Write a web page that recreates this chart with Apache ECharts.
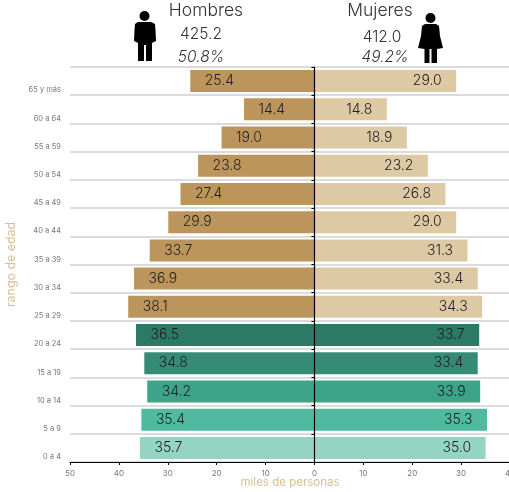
<!DOCTYPE html>
<html><head><meta charset="utf-8">
<style>html,body{margin:0;padding:0;background:#fff;overflow:hidden}#c{width:509px;height:492px}</style>
<script src="https://cdn.jsdelivr.net/npm/echarts@6/dist/echarts.min.js"></script>
</head><body><div id="c"></div>
<script>
const categories = ['0 a 4','5 a 9','10 a 14','15 a 19','20 a 24','25 a 29','30 a 34','35 a 39','40 a 44','45 a 49','50 a 54','55 a 59','60 a 64','65 y más'];
const hombres = [35.7,35.4,34.2,34.8,36.5,38.1,36.9,33.7,29.9,27.4,23.8,19.0,14.4,25.4];
const mujeres = [35.0,35.3,33.9,33.4,33.7,34.3,33.4,31.3,29.0,26.8,23.2,18.9,14.8,29.0];
const tan = '#BC955C', sand = '#DDC9A3';
const coloresHombres = ['#94D4C2','#4FBA9F','#3DA48A','#358B75','#2C7A65',tan,tan,tan,tan,tan,tan,tan,tan,tan];
const coloresMujeres = ['#94D4C2','#4FBA9F','#3DA48A','#358B75','#2C7A65',sand,sand,sand,sand,sand,sand,sand,sand,sand];
const FONT = 'Inter';
const chart = echarts.init(document.getElementById('c'), null, {renderer:'canvas'});
const lab = (pos) => ({show:true, position:pos, distance:14.5, fontFamily:FONT, fontSize:14, fontWeight:300, color:'#1f1f1f', padding:[2,0,0,0],
  formatter:p => Math.abs(p.value).toFixed(1)});
function head(txt,x,y,size,italic){return {type:'text',z:10,style:{text:txt,x,y,align:'center',verticalAlign:'middle',
  font:(italic?'italic ':'')+'300 '+size+'px '+FONT,fill:'#333'}};}
function poly(points){return {type:'polygon',shape:{points},style:{fill:'#000'}};}
chart.setOption({
  animation:false,
  grid:{left:70,right:-1,top:67,bottom:30,containLabel:false,outerBoundsMode:'none'},
  xAxis:{type:'value',min:-50,max:40,interval:10,z:5,
    axisLine:{show:true,onZero:false,lineStyle:{color:'#000',width:1.2}},
    axisTick:{show:true,length:3,lineStyle:{color:'#000'}},
    splitLine:{show:false},
    axisLabel:{fontFamily:FONT,fontSize:8,color:'#777',margin:7.5,showMaxLabel:true,hideOverlap:false,formatter:v=>Math.abs(v)},
    name:'miles de personas',nameLocation:'middle',nameGap:15,nameMoveOverlap:false,
    nameTextStyle:{fontFamily:FONT,fontSize:11.5,color:'#D9BE94'}},
  yAxis:[{type:'category',data:categories,position:'left',z:0,
      axisLine:{show:false,onZero:false},axisTick:{show:false},
      splitLine:{show:true,lineStyle:{color:'#DCDCDC',width:2}},
      axisLabel:{fontFamily:FONT,fontSize:7.5,color:'#777',margin:9,verticalAlign:'top',padding:[5,0,0,0],interval:0},
      name:'rango de edad',nameLocation:'middle',nameGap:53,nameRotate:90,nameMoveOverlap:false,
      nameTextStyle:{fontFamily:FONT,fontSize:12.4,color:'#D9BE94'}},
    {type:'category',data:categories,position:'left',z:5,
      axisLine:{show:true,onZero:true,lineStyle:{color:'#000',width:1.2}},
      axisTick:{show:true,length:3,lineStyle:{color:'#000'}},
      axisLabel:{show:false},splitLine:{show:false}}],
  series:[
   {name:'Hombres',type:'bar',stack:'t',barWidth:22,z:2,
    data:hombres.map((v,i)=>({value:-v,itemStyle:{color:coloresHombres[i]}})),label:lab('insideLeft')},
   {name:'Mujeres',type:'bar',stack:'t',barWidth:22,z:2,
    data:mujeres.map((v,i)=>({value:v,itemStyle:{color:coloresMujeres[i]}})),label:lab('insideRight')}
  ],
  graphic:[
   head('Hombres',206,11,17.5),head('425.2',201,34,15.5),head('50.8%',201,57,15.5,true),
   head('Mujeres',380,11,17.5),head('412.0',382,37,15.5),head('49.2%',385,57,15.5,true),
   {type:'circle',shape:{cx:144.5,cy:16,r:5},style:{fill:'#000'}},
   poly([[138,22],[151,22],[155,24],[155.5,30],[156,41],[152,43],[152,61],[146,61],[146,45],[144,45],[144,61],[138,61],[138,43],[134,41],[134.5,30],[135,24]]),
   {type:'circle',shape:{cx:430.5,cy:18,r:5},style:{fill:'#000'}},
   poly([[425,24],[436,24],[439,26],[440,36],[443,48],[437,49],[437,63],[431.5,63],[431.5,49],[429.5,49],[429.5,63],[424.5,63],[424.5,49],[418,48],[421,36],[422,26]])
  ]
});
</script></body></html>
